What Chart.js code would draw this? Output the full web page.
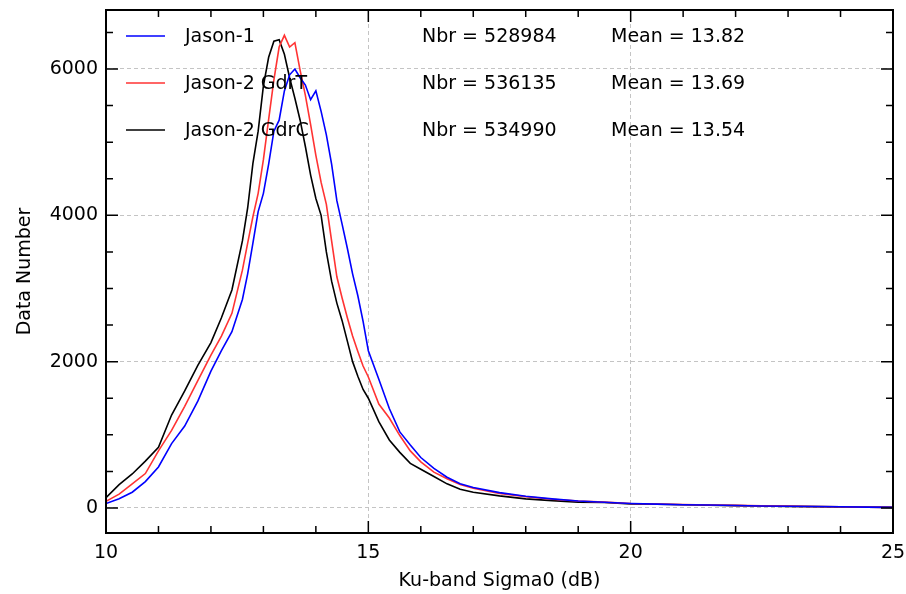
<!DOCTYPE html>
<html lang="en">
<head>
    <meta charset="UTF-8">
    <title>Ku-band Sigma0 histogram</title>
    <script src="https://cdn.jsdelivr.net/npm/chart.js"></script>
    <style>
        html, body { margin: 0; padding: 0; background: #fff; }
        #wrap { width: 906px; height: 594px; }
    </style>
    <script>
        // sigma0 bins (dB)
        const sigma0 = [10.0, 10.25, 10.5, 10.75, 11.0, 11.25, 11.5, 11.75, 12.0, 12.2, 12.4, 12.6, 12.7, 12.8, 12.9,
            13.0, 13.1, 13.2, 13.3, 13.4, 13.5, 13.6, 13.7, 13.8, 13.9, 14.0, 14.1, 14.2, 14.3, 14.4, 14.5, 14.6,
            14.7, 14.8, 14.9, 15.0, 15.2, 15.4, 15.6, 15.8, 16.0, 16.25, 16.5, 16.75, 17.0, 17.5, 18.0, 18.5, 19.0,
            19.5, 20.0, 20.5, 21.0, 21.5, 22.0, 22.5, 23.0, 23.5, 24.0, 24.5, 25.0];

        // counts per bin for each product
        const jason1 = [60, 125, 215, 360, 560, 880, 1120, 1460, 1870, 2150, 2410, 2850, 3200, 3620, 4050,
            4300, 4700, 5150, 5300, 5700, 5920, 6000, 5880, 5780, 5580, 5700, 5420, 5100, 4700, 4200, 3880, 3550,
            3200, 2900, 2550, 2150, 1760, 1360, 1040, 860, 690, 540, 420, 330, 280, 210, 160, 125, 95,
            78, 62, 52, 45, 40, 34, 28, 24, 20, 16, 12, 8];
        const jason2T = [90, 190, 330, 470, 780, 1060, 1390, 1740, 2090, 2350, 2660, 3250, 3620, 3980, 4300,
            4760, 5310, 5850, 6300, 6460, 6300, 6360, 5980, 5640, 5240, 4820, 4450, 4150, 3650, 3160, 2870, 2600,
            2350, 2140, 1940, 1790, 1420, 1230, 990, 780, 630, 490, 400, 320, 270, 200, 155, 120, 95,
            80, 62, 55, 48, 40, 35, 30, 25, 20, 16, 12, 8];
        const jason2C = [140, 320, 465, 640, 830, 1270, 1600, 1950, 2260, 2600, 2980, 3650, 4100, 4710, 5150,
            5770, 6160, 6380, 6400, 6200, 5880, 5600, 5300, 4940, 4550, 4230, 4000, 3500, 3100, 2800, 2560, 2280,
            2000, 1800, 1620, 1500, 1180, 930, 760, 610, 530, 430, 330, 255, 215, 165, 125, 100, 80,
            75, 55, 50, 45, 38, 32, 28, 22, 18, 15, 12, 8];

        const seriesNames = ['Jason-1', 'Jason-2 GdrT', 'Jason-2 GdrC'];
        const seriesNbr = [528984, 536135, 534990];
        const seriesMean = ['13.82', '13.69', '13.54'];
        const seriesColors = ['#0000ff', '#ff3333', '#000000'];

        // tick positions (labelled ones: every 5 dB, every 2000 counts)
        const xTicks = [10, 11, 12, 13, 14, 15, 16, 17, 18, 19, 20, 21, 22, 23, 24, 25];
        const yTicks = [0, 500, 1000, 1500, 2000, 2500, 3000, 3500, 4000, 4500, 5000, 5500, 6000, 6500];

        const FONT = 'DejaVu Sans';

        // inward ticks on all four sides, frame and the in-plot legend
        const framePlugin = {
            id: 'frame',
            afterDatasetsDraw(chart) {
                const c = chart.ctx;
                const a = chart.chartArea;
                const xs = chart.scales.x;
                const ys = chart.scales.y;
                c.save();
                c.strokeStyle = '#000';
                c.lineWidth = 1.5;
                c.beginPath();
                xs.ticks.forEach(t => {
                    const px = xs.getPixelForValue(t.value);
                    const len = t.value % 5 === 0 ? 12 : 7;
                    c.moveTo(px, a.bottom); c.lineTo(px, a.bottom - len);
                    c.moveTo(px, a.top); c.lineTo(px, a.top + len);
                });
                ys.ticks.forEach(t => {
                    const py = ys.getPixelForValue(t.value);
                    const len = t.value % 2000 === 0 ? 12 : 7;
                    c.moveTo(a.left, py); c.lineTo(a.left + len, py);
                    c.moveTo(a.right, py); c.lineTo(a.right - len, py);
                });
                c.stroke();
                c.lineWidth = 2;
                c.strokeRect(a.left, a.top, a.right - a.left, a.bottom - a.top);

                // legend
                c.font = '19px "' + FONT + '"';
                c.textBaseline = 'middle';
                c.textAlign = 'left';
                chart.data.datasets.forEach((ds, i) => {
                    const y = a.top + 26 + i * 47;
                    c.strokeStyle = ds.borderColor;
                    c.lineWidth = 1.5;
                    c.beginPath();
                    c.moveTo(a.left + 20, y); c.lineTo(a.left + 59, y);
                    c.stroke();
                    c.fillStyle = '#000';
                    c.fillText(ds.label, a.left + 79, y + 1);
                    c.fillText('Nbr = ' + seriesNbr[i], a.left + 316, y + 1);
                    c.fillText('Mean = ' + seriesMean[i], a.left + 505, y + 1);
                });
                c.restore();
            }
        };

        window.onload = function () {
            const ctx = document.getElementById('histChart').getContext('2d');
            const vals = [jason1, jason2T, jason2C];
            new Chart(ctx, {
                type: 'line',
                data: {
                    datasets: vals.map((v, i) => ({
                        label: seriesNames[i],
                        data: sigma0.map((x, k) => ({ x: x, y: v[k] })),
                        borderColor: seriesColors[i],
                        borderWidth: 1.6,
                        pointRadius: 0,
                        tension: 0,
                        fill: false
                    }))
                },
                options: {
                    responsive: false,
                    animation: false,
                    layout: { padding: { top: 10, right: 13, left: 0, bottom: 0 } },
                    plugins: { legend: { display: false }, tooltip: { enabled: false } },
                    scales: {
                        x: {
                            type: 'linear',
                            min: 10,
                            max: 25,
                            afterBuildTicks(s) { s.ticks = xTicks.map(v => ({ value: v })); },
                            afterFit(s) { s.height = 61; s.paddingLeft = 0; s.paddingRight = 0; },
                            border: { display: false, dash: [4, 3] },
                            grid: {
                                drawTicks: false,
                                color: c => (c.tick && c.tick.value % 5 === 0 && c.tick.value > 10 && c.tick.value < 25) ? '#c4c4c4' : 'rgba(0,0,0,0)',
                                lineWidth: 1
                            },
                            ticks: {
                                padding: 9,
                                maxRotation: 0,
                                autoSkip: false,
                                color: '#000',
                                font: { family: FONT, size: 19 },
                                callback: v => (v % 5 === 0 ? String(v) : '')
                            },
                            title: {
                                display: true,
                                text: 'Ku-band Sigma0 (dB)',
                                color: '#000',
                                font: { family: FONT, size: 19 },
                                padding: { top: 0, bottom: 2 }
                            }
                        },
                        y: {
                            min: -342,
                            max: 6806,
                            afterBuildTicks(s) { s.ticks = yTicks.map(v => ({ value: v })); },
                            afterFit(s) { s.width = 106; s.paddingTop = 0; s.paddingBottom = 0; },
                            border: { display: false, dash: [4, 3] },
                            grid: {
                                drawTicks: false,
                                color: c => (c.tick && c.tick.value % 2000 === 0) ? '#c4c4c4' : 'rgba(0,0,0,0)',
                                lineWidth: 1
                            },
                            ticks: {
                                padding: 8,
                                autoSkip: false,
                                color: '#000',
                                font: { family: FONT, size: 19 },
                                callback: v => (v % 2000 === 0 ? String(v) : '')
                            },
                            title: {
                                display: true,
                                text: 'Data Number',
                                color: '#000',
                                font: { family: FONT, size: 19 },
                                padding: { top: 14, bottom: 0 }
                            }
                        }
                    }
                },
                plugins: [framePlugin]
            });
        };
    </script>
</head>
<body>
    <div id="wrap"><canvas id="histChart" width="906" height="594"></canvas></div>
</body>
</html>
